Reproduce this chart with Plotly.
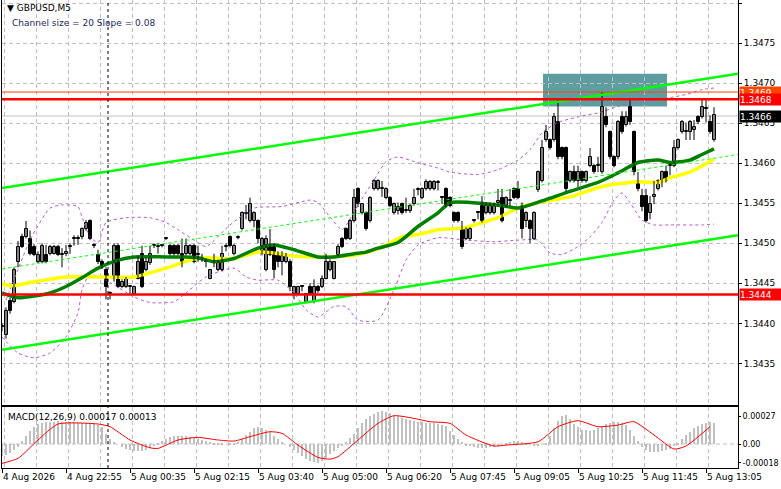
import plotly.graph_objects as go

# ---------------------------------------------------------------------------
# GBPUSD M5 candles, one entry per bar (bar 0 = leftmost)
# values are the digits after 1.34, e.g. 496 -> 1.34496
open_pts = [
    396, 386, 428, 427, 477, 508, 508, 506, 496, 477,
    477, 486, 487, 487, 496, 486, 487, 496, 506, 507,
    508, 518, 528, 498, 486, 477, 467, 437, 456, 497,
    446, 446, 446, 437, 456, 487, 467, 475, 497, 496,
    497, 506, 497, 497, 497, 487, 487, 487, 497, 486,
    480, 477, 456, 477, 467, 467, 496, 508, 487, 507,
    518, 537, 528, 528, 528, 487, 467, 496, 496, 486,
    477, 477, 477, 437, 437, 446, 427, 446, 427, 446,
    446, 456, 467, 456, 486, 506, 518, 506, 528, 568,
    538, 538, 528, 568, 568, 568, 557, 557, 538, 540,
    549, 540, 540, 549, 567, 557, 568, 568, 568, 575,
    557, 568, 557, 538, 538, 518, 506, 506, 528, 538,
    547, 538, 538, 538, 550, 557, 547, 553, 568, 568,
    547, 528, 528, 506, 566, 578, 629, 629, 629, 651,
    619, 619, 578, 589, 578, 589, 578, 597, 597, 597,
    589, 658, 639, 608, 608, 658, 648, 670, 639, 578,
    559, 559, 538, 558, 568, 578, 589, 597, 597, 619,
    639, 639, 639, 641, 658, 658, 668, 651, 629,
]
high_pts = [
    400, 420, 432, 470, 503, 512, 528, 516, 499, 490,
    500, 498, 498, 498, 498, 494, 498, 500, 510, 510,
    520, 529, 530, 500, 492, 480, 470, 440, 500, 500,
    455, 458, 448, 447, 485, 497, 482, 497, 500, 500,
    499, 508, 499, 499, 499, 506, 506, 499, 499, 497,
    487, 480, 468, 487, 479, 497, 500, 510, 499, 510,
    540, 548, 557, 540, 530, 508, 510, 518, 500, 490,
    490, 488, 480, 447, 447, 448, 438, 450, 455, 448,
    460, 487, 480, 477, 499, 508, 520, 530, 568, 570,
    550, 540, 559, 580, 580, 578, 570, 559, 551, 551,
    551, 557, 549, 568, 570, 570, 580, 579, 579, 579,
    559, 570, 559, 540, 540, 528, 520, 520, 530, 540,
    559, 551, 551, 551, 568, 568, 559, 568, 570, 578,
    551, 540, 530, 540, 591, 629, 648, 631, 663, 680,
    621, 621, 591, 597, 597, 591, 591, 619, 599, 608,
    689, 670, 641, 610, 654, 665, 665, 680, 641, 589,
    568, 568, 559, 578, 580, 591, 597, 600, 629, 631,
    654, 651, 654, 654, 660, 680, 680, 660, 670,
]
low_pts = [
    390, 381, 412, 425, 470, 494, 506, 485, 484, 475,
    475, 475, 485, 486, 484, 470, 484, 487, 497, 498,
    505, 516, 504, 494, 474, 468, 430, 430, 452, 444,
    444, 444, 437, 436, 455, 444, 465, 473, 494, 487,
    495, 504, 485, 485, 485, 470, 485, 485, 475, 477,
    477, 470, 455, 470, 465, 465, 490, 495, 485, 505,
    516, 530, 526, 520, 500, 485, 465, 484, 456, 470,
    460, 475, 440, 430, 435, 440, 425, 435, 425, 438,
    444, 455, 465, 455, 484, 494, 504, 504, 526, 545,
    536, 516, 526, 566, 566, 558, 555, 545, 536, 536,
    536, 538, 538, 547, 560, 555, 566, 566, 566, 566,
    549, 545, 545, 526, 526, 493, 504, 504, 526, 530,
    526, 536, 536, 536, 547, 526, 545, 547, 555, 555,
    506, 520, 500, 504, 564, 576, 627, 617, 627, 605,
    605, 565, 576, 576, 570, 576, 576, 595, 587, 589,
    587, 645, 605, 595, 605, 637, 646, 648, 585, 565,
    540, 526, 530, 549, 566, 570, 576, 585, 595, 617,
    637, 629, 629, 629, 649, 656, 651, 637, 627,
]
close_pts = [
    396, 416, 416, 467, 496, 496, 518, 487, 486, 486,
    497, 477, 496, 496, 486, 487, 489, 497, 507, 506,
    518, 526, 506, 497, 477, 470, 446, 437, 497, 446,
    452, 456, 447, 446, 477, 446, 477, 487, 498, 497,
    497, 507, 487, 487, 487, 477, 497, 497, 477, 487,
    481, 477, 467, 476, 477, 487, 497, 497, 497, 508,
    538, 538, 549, 538, 506, 506, 506, 486, 467, 477,
    486, 486, 446, 446, 446, 446, 437, 437, 446, 440,
    456, 477, 477, 477, 496, 496, 506, 528, 557, 549,
    549, 518, 557, 578, 578, 569, 568, 547, 549, 545,
    538, 541, 547, 557, 568, 568, 577, 577, 577, 576,
    557, 547, 547, 528, 528, 496, 518, 518, 528, 538,
    528, 549, 549, 549, 553, 528, 557, 554, 557, 557,
    518, 538, 518, 538, 589, 619, 639, 619, 658, 608,
    608, 568, 589, 578, 589, 578, 589, 608, 589, 598,
    670, 648, 608, 597, 651, 639, 658, 651, 589, 568,
    545, 528, 549, 560, 578, 589, 578, 598, 619, 629,
    651, 640, 651, 645, 651, 670, 668, 639, 660,
]

# moving averages (at a few bars)
yellow_bars = [0, 3, 7, 16, 24, 33, 41, 47, 51, 58, 64, 68, 73, 80, 88, 94,
               100, 104, 109, 115, 124, 129, 135, 142, 150, 159, 164, 167, 172, 178]
yellow_vals = [1.34449, 1.34447, 1.34451, 1.34458, 1.34458, 1.34458, 1.34469, 1.34479,
               1.34482, 1.34481, 1.34489, 1.34488, 1.34484, 1.34483, 1.34485, 1.34493,
               1.34508, 1.34511, 1.34517, 1.34519, 1.34532, 1.34544, 1.34552, 1.34558,
               1.34571, 1.34577, 1.34576, 1.34582, 1.34589, 1.34605]
green_bars = [0, 4, 12, 16, 20, 24, 29, 33, 41, 46, 49, 53, 58, 64, 68, 73, 79, 83, 88,
              91, 94, 99, 104, 109, 112, 117, 125, 129, 135, 142, 149, 154, 159, 164,
              167, 172, 175, 178]
green_vals = [1.34438, 1.34432, 1.34438, 1.34446, 1.34457, 1.34469, 1.34479, 1.34483,
              1.34483, 1.34483, 1.34482, 1.34477, 1.34481, 1.34494, 1.34498, 1.34492,
              1.34483, 1.34483, 1.34487, 1.34489, 1.34494, 1.34501, 1.34521, 1.34538,
              1.34551, 1.34551, 1.34547, 1.34544, 1.34553, 1.34565, 1.34576, 1.34588,
              1.34601, 1.34604, 1.34601, 1.34604, 1.34611, 1.34618]

# bollinger bands
bb_up_bars = [1, 4, 7, 12, 15, 19, 20, 22, 24, 26, 31, 37, 41, 44, 48, 51, 57, 63, 70, 77,
              79, 82, 85, 89, 93, 96, 99, 103, 109, 112, 119, 124, 129, 132, 135, 139,
              144, 149, 154, 159, 163, 167, 171, 175, 178]
bb_up_vals = [1.34429, 1.34467, 1.34504, 1.34544, 1.34548, 1.34546, 1.34533, 1.34508,
              1.34501, 1.34526, 1.34532, 1.34532, 1.34526, 1.34517, 1.34504, 1.34496,
              1.34523, 1.34544, 1.34546, 1.34554, 1.34551, 1.34533, 1.34517, 1.34548,
              1.34579, 1.34602, 1.34608, 1.34602, 1.34594, 1.34589, 1.34586, 1.34592,
              1.34604, 1.34617, 1.34638, 1.34651, 1.34658, 1.34663, 1.34671, 1.34676,
              1.34679, 1.34682, 1.34686, 1.34692, 1.34694]
bb_lo_bars = [0, 4, 8, 12, 16, 19, 20, 22, 27, 33, 37, 43, 46, 51, 58, 61, 64, 69, 73, 76,
              79, 83, 86, 89, 94, 98, 101, 104, 109, 116, 123, 129, 134, 137, 140, 144,
              147, 150, 153, 155, 157, 160, 163, 167, 175, 178]
bb_lo_vals = [1.34383, 1.34363, 1.34357, 1.34363, 1.34383, 1.34413, 1.34442, 1.34461,
              1.34451, 1.34433, 1.34426, 1.34427, 1.34438, 1.34458, 1.34469, 1.34458,
              1.34454, 1.34454, 1.34438, 1.34417, 1.34408, 1.34421, 1.34421, 1.34404,
              1.34404, 1.34442, 1.34479, 1.34498, 1.34507, 1.34504, 1.34502, 1.34504,
              1.34504, 1.34488, 1.34486, 1.34496, 1.34508, 1.34526, 1.34554, 1.34563,
              1.34551, 1.34529, 1.34523, 1.34523, 1.34523, 1.34524]

# regression channel (20 pips), ends at the left and right edge
channel_bars = [0, 184]
channel_lower = [1.34367, 1.34510]
channel_middle = [1.34468, 1.34611]
channel_upper = [1.34569, 1.34712]

# levels and zone
level_top = 1.34680
level_top2 = 1.34689
level_bottom = 1.34436
bid = 1.34659
zone_bars = [135.25, 166.25]
zone_prices = [1.34671, 1.34712]
separator_bar = 26.5

# MACD(12,26,9), values in 1e-5
macd_hist = [
    -12, -11, -9, -6, -3, 3, 8, 13, 16, 19,
    20, 21, 21, 21, 22, 21, 21, 21, 21, 20,
    20, 20, 20, 19, 18, 16, 10, 5, 2, 0,
    -3, -5, -6, -7, -7, -7, -6, -4, -2, 1,
    3, 5, 7, 8, 8, 8, 8, 7, 6, 5,
    4, 3, 2, 1, 1, 1, 0, 1, 1, 2,
    5, 9, 12, 15, 16, 15, 14, 12, 8, 5,
    2, 0, -3, -6, -9, -12, -14, -16, -17, -18,
    -16, -13, -10, -7, -4, -1, 2, 6, 10, 15,
    20, 24, 27, 29, 31, 32, 31, 30, 28, 27,
    25, 24, 23, 22, 21, 21, 20, 20, 20, 19,
    18, 17, 13, 9, 5, 2, -1, -2, -3, -4,
    -4, -4, -3, -3, -2, 0, 1, 2, 3, 3,
    2, 1, 0, -1, -1, 0, 1, 8, 15, 22,
    27, 28, 24, 19, 16, 14, 14, 13, 14, 15,
    17, 19, 20, 21, 21, 20, 18, 14, 8, 3,
    -3, -6, -8, -8, -8, -7, -6, -5, -2, 1,
    5, 9, 12, 15, 17, 19, 20, 21, 20,
]
signal_bars = [0, 4, 9, 14, 24, 27, 32, 37, 39, 44, 49, 54, 58, 62, 67, 70, 74, 79, 82,
               84, 89, 94, 98, 103, 107, 112, 116, 123, 126, 134, 139, 144, 149, 154,
               158, 163, 168, 171, 177]
signal_vals = [-18.6, -13.8, 3.9, 19.3, 19.3, 16.7, 3.9, -3.6, -4.2, 3.9, 6.4, 3.9, 2.9,
               7.1, 11.9, 10.3, -1.0, -12.9, -14.5, -12.2, 3.9, 19.9, 27.3, 24.7, 21.5,
               19.9, 8.7, -1.9, -1.0, 2.2, 16.7, 22.5, 16.7, 18.3, 21.5, 8.7, -4.8, -1.9,
               16.7]

# axis labels
label_bars = [0, 16, 32, 48, 64, 80, 96, 112, 128, 144, 160, 176]
time_labels = ["4 Aug 2026", "4 Aug 22:55", "5 Aug 00:35", "5 Aug 02:15", "5 Aug 03:40",
               "5 Aug 05:00", "5 Aug 06:20", "5 Aug 07:45", "5 Aug 09:05", "5 Aug 10:25",
               "5 Aug 11:45", "5 Aug 13:05"]
price_ticks = [1.3435, 1.3440, 1.3445, 1.3450, 1.3455, 1.3460, 1.3465, 1.3470, 1.3475, 1.3480]
macd_ticks = [-0.00018, 0.0, 0.00027]
macd_tick_text = ["-0.00018", "0.00", "0.00027"]

# ---------------------------------------------------------------------------
bars = list(range(len(close_pts)))
to_price = lambda pts: [1.34 + v / 100000 for v in pts]
o, h, l, c = to_price(open_pts), to_price(high_pts), to_price(low_pts), to_price(close_pts)

FONT = "DejaVu Sans"
GRID = "#c0c0c0"
main_bottom = 63 / 468
macd_top = 61 / 468

fig = go.Figure()

# bollinger
for bx, by in [(bb_up_bars, bb_up_vals), (bb_lo_bars, bb_lo_vals)]:
    fig.add_trace(go.Scatter(x=bx, y=by, mode="lines",
                             line=dict(color="#BA55D3", width=1, dash="3px,3px", shape="spline", smoothing=0.6)))

# moving averages
fig.add_trace(go.Scatter(x=yellow_bars, y=yellow_vals, mode="lines",
                         line=dict(color="#FFFF00", width=3.5, shape="spline", smoothing=0.6)))
fig.add_trace(go.Scatter(x=green_bars, y=green_vals, mode="lines",
                         line=dict(color="#008000", width=3.5, shape="spline", smoothing=0.6)))

# candles: wicks as one broken line, bodies as floating bars
wick_x, wick_y = [], []
for i in bars:
    wick_x += [i, i, None]
    wick_y += [l[i], h[i], None]
fig.add_trace(go.Scatter(x=wick_x, y=wick_y, mode="lines", line=dict(color="black", width=1)))
fig.add_trace(go.Bar(
    x=bars,
    base=[min(o[i], c[i]) for i in bars],
    y=[max(abs(c[i] - o[i]), 0.000012) for i in bars],
    width=0.75,
    marker=dict(color=["white" if c[i] > o[i] else "black" for i in bars],
                line=dict(color="black", width=1)),
))

# channel
fig.add_trace(go.Scatter(x=channel_bars, y=channel_middle, mode="lines",
                         line=dict(color="#00FF00", width=1, dash="3px,3px")))
for cy in [channel_upper, channel_lower]:
    fig.add_trace(go.Scatter(x=channel_bars, y=cy, mode="lines",
                             line=dict(color="#00FF00", width=2.5)))

# MACD panel
fig.add_trace(go.Bar(x=bars, y=[v / 100000 for v in macd_hist], width=0.5,
                     marker=dict(color="#C0C0C0", line=dict(width=0)),
                     xaxis="x2", yaxis="y2"))
fig.add_trace(go.Scatter(x=signal_bars, y=[v / 100000 for v in signal_vals], mode="lines",
                         line=dict(color="#FF0000", width=1, shape="spline", smoothing=0.6),
                         xaxis="x2", yaxis="y2"))

minor_grid = dict(tickmode="linear", tick0=0.5, dtick=8, showgrid=True,
                  gridcolor=GRID, griddash="4px,3px", gridwidth=1, ticks="")

fig.update_layout(
    width=781, height=489,
    margin=dict(l=2, r=43, t=0, b=21, autoexpand=False),
    paper_bgcolor="white", plot_bgcolor="white",
    showlegend=False,
    font=dict(family=FONT, size=9, color="black"),
    xaxis=dict(domain=[0, 1], range=[0, 184], anchor="y", showticklabels=False,
               showgrid=False, zeroline=False, ticks="", minor=minor_grid,
               showline=True, linecolor="black", linewidth=1),
    yaxis=dict(domain=[main_bottom, 1], range=[1.34298, 1.34804], anchor="x", side="right",
               tickmode="array", tickvals=price_ticks, ticktext=[f"{p:.4f}" for p in price_ticks],
               showgrid=True, gridcolor=GRID, griddash="4px,3px", zeroline=False,
               ticks="outside", ticklen=3, tickcolor="black", automargin=False,
               showline=True, mirror=True, linecolor="black", linewidth=1),
    xaxis2=dict(domain=[0, 1], range=[0, 184], anchor="y2", tickmode="array",
                tickvals=label_bars, showticklabels=False, ticks="outside", ticklen=4,
                tickcolor="black", showgrid=False, zeroline=False, minor=minor_grid,
                showline=True, mirror=True, linecolor="black", linewidth=1),
    yaxis2=dict(domain=[0, macd_top], range=[-0.000231, 0.000357], anchor="x2", side="right",
                tickmode="array", tickvals=macd_ticks, ticktext=macd_tick_text,
                tickfont=dict(family=FONT, size=8),
                showgrid=False, zeroline=False, ticks="outside", ticklen=2, tickcolor="black",
                automargin=False,
                showline=True, mirror=True, linecolor="black", linewidth=1),
    bargap=0,
    barmode="overlay",
)

# zone, levels, separators
fig.add_shape(type="rect", xref="x", yref="y", x0=zone_bars[0], x1=zone_bars[1],
              y0=zone_prices[0], y1=zone_prices[1], fillcolor="#5F9EA0",
              line=dict(width=0), layer="below")
fig.add_shape(type="line", xref="x domain", yref="y", x0=0, x1=1, y0=bid, y1=bid,
              line=dict(color="#C0C0C0", width=1), layer="below")
fig.add_shape(type="line", xref="x domain", yref="y", x0=0, x1=1, y0=level_top2, y1=level_top2,
              line=dict(color="#FF4500", width=1))
fig.add_shape(type="line", xref="x domain", yref="y", x0=0, x1=1, y0=level_top, y1=level_top,
              line=dict(color="#FF0000", width=2.5))
fig.add_shape(type="line", xref="x domain", yref="y", x0=0, x1=1, y0=level_bottom, y1=level_bottom,
              line=dict(color="#FF0000", width=2.5))
fig.add_shape(type="line", xref="x2 domain", yref="y2", x0=0, x1=1, y0=0, y1=0,
              line=dict(color=GRID, width=1, dash="4px,3px"), layer="below")
fig.add_shape(type="line", xref="x", yref="paper", x0=separator_bar, x1=separator_bar,
              y0=0, y1=1, line=dict(color="black", width=1, dash="3px,3px"))

# price label boxes on the right axis
for price, text, bg in [(level_top2, "1.3469", "#FF4500"), (level_top, "1.3468", "#FF0000"),
                        (bid, "1.3466", "#000000"), (level_bottom, "1.3444", "#FF0000")]:
    fig.add_annotation(x=1, xref="paper", y=price, yref="y", text=text, showarrow=False,
                       xanchor="left", yanchor="middle", xshift=1, width=41, height=11,
                       align="left", bgcolor=bg, borderpad=0,
                       font=dict(family=FONT, size=9, color="white"))

# titles
fig.add_annotation(x=0.004, y=0.997, xref="paper", yref="paper", xanchor="left", yanchor="top",
                   text="▼ GBPUSD,M5", showarrow=False, font=dict(family=FONT, size=9, color="black"))
fig.add_annotation(x=0.011, y=0.965, xref="paper", yref="paper", xanchor="left", yanchor="top",
                   text="Channel size = 20 Slope = 0.08", showarrow=False,
                   font=dict(family=FONT, size=9, color="#1c2a5a"))
fig.add_annotation(x=0.006, y=macd_top - 0.006, xref="paper", yref="paper", xanchor="left",
                   yanchor="top", text="MACD(12,26,9) 0.00017 0.00013", showarrow=False,
                   font=dict(family=FONT, size=9, color="black"))

# time labels
for b, t in zip(label_bars, time_labels):
    fig.add_annotation(x=b, xref="x2", y=0, yref="paper", text=t, showarrow=False,
                       xanchor="left", yanchor="top", yshift=-2, xshift=-1,
                       font=dict(family=FONT, size=9, color="black"))

# page has a default body margin; drop it so the figure sits at the window corner
fig.write_html("out.html", config={"displayModeBar": False},
               post_script="document.body.style.margin='0';")
